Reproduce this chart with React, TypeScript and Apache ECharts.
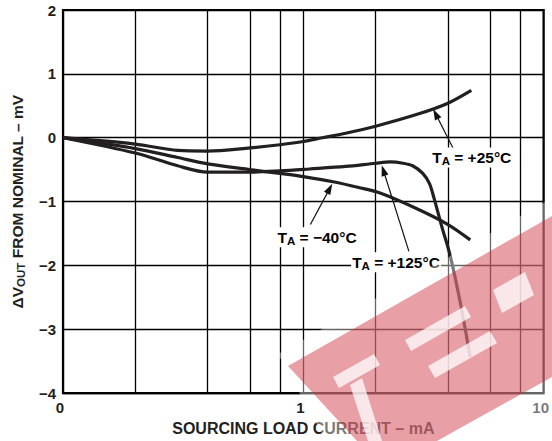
import React, { useEffect, useRef } from 'react';
import * as echarts from 'echarts';

// ---- data ----
const xTicks = [0.1, 1, 10];
const xTickLabels = ['0', '1', '10'];
const minorGridX = [0.2, 0.4, 0.6, 0.8, 2, 4, 6, 8];
const yMin = -4;
const yMax = 2;
const yStep = 1;

const curve25: [number, number][] = [
  [0.1, 0], [0.2, -0.1], [0.3, -0.2], [0.4, -0.21], [0.6, -0.16], [0.8, -0.11],
  [1.0, -0.06], [1.2, 0.0], [1.5, 0.07], [2, 0.18], [3, 0.37], [4, 0.54], [5, 0.74],
];
const curveM40: [number, number][] = [
  [0.1, 0], [0.2, -0.17], [0.3, -0.31], [0.4, -0.41], [0.6, -0.5], [0.8, -0.56],
  [1.0, -0.61], [1.33, -0.69], [1.7, -0.78], [2.1, -0.87], [3, -1.12], [4, -1.36], [4.95, -1.6],
];
const curve125: [number, number][] = [
  [0.1, 0], [0.2, -0.24], [0.3, -0.44], [0.4, -0.54], [0.6, -0.54], [0.8, -0.52],
  [1.06, -0.49], [1.5, -0.45], [2, -0.4], [2.3, -0.38], [2.6, -0.4], [2.85, -0.44],
  [3.14, -0.56], [3.35, -0.72], [3.5, -0.95], [3.62, -1.15], [3.8, -1.44], [4.0, -1.72],
  [4.18, -2.01], [4.53, -2.64], [4.95, -3.44],
];

const annotations = [
  { temp: '+25°C', text: [5.02, -0.31], tail: [4.23, -0.19], tip: [3.47, 0.45] },
  { temp: '−40°C', text: [1.14, -1.56], tail: [1.07, -1.36], tip: [1.32, -0.72] },
  { temp: '+125°C', text: [2.43, -1.95], tail: [2.75, -1.78], tip: [2.12, -0.43] },
];

const FONT = '"Liberation Sans", Arial, Helvetica, sans-serif';
const INK = '#231f20';

const richSub = {
  b: { fontFamily: FONT, fontWeight: 'bold', fontSize: 15.5, color: INK, lineHeight: 20, verticalAlign: 'middle' },
  s: { fontFamily: FONT, fontWeight: 'bold', fontSize: 11.5, color: INK, lineHeight: 11, verticalAlign: 'bottom' },
};

const lineSeries = (name: string, data: [number, number][]) => ({
  name,
  type: 'line',
  data,
  smooth: 0.3,
  showSymbol: false,
  symbol: 'none',
  lineStyle: { color: INK, width: 3.2 },
  z: 3,
});

export default function App() {
  const ref = useRef<HTMLDivElement>(null);
  useEffect(() => {
    document.body.style.margin = '0';
    const chart = echarts.init(ref.current!, undefined, { renderer: 'svg' });
    const option: any = {
      animation: false,
      grid: {
        left: 63, right: 7, top: 10, bottom: 47,
        show: true, borderColor: '#000', borderWidth: 2.2, backgroundColor: '#fff',
      },
      xAxis: {
        type: 'log',
        logBase: 10,
        min: xTicks[0],
        max: xTicks[xTicks.length - 1],
        name: 'SOURCING LOAD CURRENT – mA',
        nameLocation: 'middle',
        nameGap: 24,
        nameTextStyle: { fontFamily: FONT, fontWeight: 'bold', fontSize: 16, color: INK },
        axisLine: { show: false },
        axisTick: { show: false },
        splitLine: { show: true, lineStyle: { color: '#000', width: 1.3 } },
        axisLabel: {
          fontFamily: FONT, fontWeight: 'bold', fontSize: 15, color: INK, margin: 7,
          padding: [0, 6, 0, 0],
          showMinLabel: true, showMaxLabel: true,
          formatter: (v: number) => {
            const i = xTicks.findIndex((t) => Math.abs(Math.log10(t) - Math.log10(v)) < 1e-6);
            return i >= 0 ? xTickLabels[i] : '';
          },
        },
      },
      yAxis: {
        type: 'value',
        min: yMin,
        max: yMax,
        interval: yStep,
        name: '{b|ΔV}{s|OUT}{b| FROM NOMINAL – mV}',
        nameLocation: 'middle',
        nameGap: 36,
        nameTextStyle: { rich: richSub },
        axisLine: { show: false },
        axisTick: { show: false },
        splitLine: { show: true, lineStyle: { color: '#000', width: 1.3 } },
        axisLabel: {
          fontFamily: FONT, fontWeight: 'bold', fontSize: 15, color: INK, margin: 7,
          formatter: (v: number) => (v < 0 ? '−' + Math.abs(v) : String(v)),
        },
      },
      series: [
        {
          ...lineSeries('TA = +25°C', curve25),
          markLine: {
            silent: true,
            symbol: ['none', 'none'],
            label: { show: false },
            lineStyle: { color: '#000', width: 1.3, type: 'solid' },
            data: minorGridX.map((v) => ({ xAxis: v })),
            z: 1,
          },
        },
        lineSeries('TA = −40°C', curveM40),
        lineSeries('TA = +125°C', curve125),
      ],
    };
    chart.setOption(option);

    const toPx = (p: number[]) => chart.convertToPixel({ gridIndex: 0 }, p) as number[];
    const graphics: any[] = [];
    annotations.forEach((a) => {
      const tip = toPx(a.tip);
      const tail = toPx(a.tail);
      const c = toPx(a.text);
      const dx = tip[0] - tail[0];
      const dy = tip[1] - tail[1];
      const len = Math.hypot(dx, dy);
      const ux = dx / len, uy = dy / len;
      const L = 11, W = 3.6;
      const bx = tip[0] - ux * L, by = tip[1] - uy * L;
      graphics.push({
        type: 'line', z: 20, silent: true,
        shape: { x1: tail[0], y1: tail[1], x2: bx + ux * 2, y2: by + uy * 2 },
        style: { stroke: '#111', lineWidth: 1.2 },
      });
      graphics.push({
        type: 'polygon', z: 20, silent: true,
        shape: { points: [[tip[0], tip[1]], [bx - uy * W, by + ux * W], [bx + uy * W, by - ux * W]] },
        style: { fill: '#111' },
      });
      graphics.push({
        type: 'text', z: 21, silent: true, x: c[0], y: c[1],
        style: {
          text: '{b|T}{s|A}{b| = ' + a.temp + '}',
          rich: richSub,
          align: 'center', verticalAlign: 'middle',
          backgroundColor: '#fff', padding: [0, 1],
        },
      });
    });

    // watermark overlay (decorative)
    graphics.push({
      type: 'polygon', z: 30, silent: true,
      shape: { points: [[278, 354], [552, 198], [552, 441], [326, 441]] },
      style: { fill: 'rgba(255,255,255,0.4)' },
    });
    graphics.push({
      type: 'polygon', z: 31, silent: true,
      shape: { points: [[288, 366], [552, 216], [552, 377], [437, 441], [357, 441]] },
      style: { fill: 'rgba(205,45,57,0.45)' },
    });
    const strips = [
      [[333, 377], [374, 354], [380, 365], [339, 388]],
      [[405, 340], [465, 306], [471, 317], [411, 351]],
      [[428, 366], [490, 331], [497, 343], [435, 378]],
      [[493, 290], [525, 272], [534, 295], [502, 313]],
      [[350, 385], [362, 378], [382, 441], [368, 441]],
    ];
    strips.forEach((pts) =>
      graphics.push({
        type: 'polygon', z: 32, silent: true,
        shape: { points: pts },
        style: { fill: 'rgba(255,255,255,0.75)' },
      })
    );
    chart.setOption({ graphic: graphics });
    return () => chart.dispose();
  }, []);
  return <div ref={ref} style={{ width: 552, height: 441 }} />;
}
